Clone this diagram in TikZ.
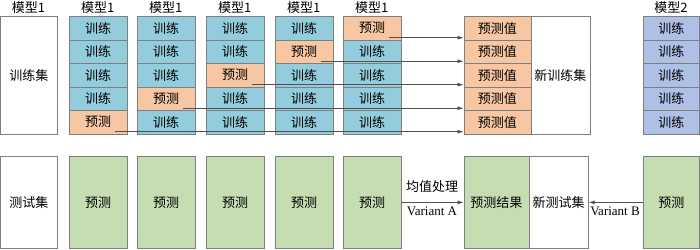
\documentclass[tikz,border=0pt]{standalone}
\usepackage{fontspec}
\setmainfont{Liberation Serif}
\newfontfamily\cjk{Noto Sans CJK SC}
\usetikzlibrary{arrows.meta}
\definecolor{trainc}{HTML}{93CDDD}
\definecolor{predc}{HTML}{F7C6A3}
\definecolor{greenc}{HTML}{C4DEB2}
\definecolor{bluec}{HTML}{AFC0E6}
\definecolor{edgec}{HTML}{7F7F7F}
\definecolor{linec}{HTML}{505050}
\tikzset{
  txt/.style={font=\cjk\fontsize{13}{15}\selectfont, inner sep=0pt},
  cell/.style={txt, draw=edgec, line width=0.7pt, anchor=north west, minimum width=57.5pt, minimum height=23.5pt},
  bigbox/.style={txt, draw=edgec, line width=0.7pt, anchor=north west, minimum height=117.5pt},
  lowbox/.style={txt, draw=edgec, line width=0.7pt, anchor=north west, minimum height=92pt},
  title/.style={txt},
  link/.style={draw=linec, line width=0.7pt, -{Latex[length=6pt,width=4pt]}},
  lbl/.style={font=\fontsize{13}{15}\selectfont, inner sep=0pt}
}
\begin{document}
\begin{tikzpicture}[x=1pt,y=-1pt]
\useasboundingbox (0,0) rectangle (700,249);
% training set
\node[bigbox, fill=white, minimum width=57pt] (ts) at (0,16) {训练集};
\node[title] (t0) at (28.5,8) {模型1};
% model 1 columns
\foreach \i/\x in {1/69,2/137,3/206,4/275,5/343} {
  \node[title] (t\i) at (\x+28.75,8) {模型1};
  \pgfmathtruncatemacro\p{6-\i}
  \foreach \j in {1,...,5} {
    \ifnum\j=\p \def\fc{predc}\def\tx{预测}\else\def\fc{trainc}\def\tx{训练}\fi
    \node[cell, fill=\fc] (c\i-\j) at (\x,16+23.5*\j-23.5) {\tx};
  }
  \node[lowbox, fill=greenc, minimum width=57.5pt] (g\i) at (\x,156) {预测};
}
% predicted values
\foreach \j in {1,...,5} {
  \node[cell, fill=predc, minimum width=67pt] (pv\j) at (463.5,16+23.5*\j-23.5) {预测值};
}
\node[bigbox, fill=white, minimum width=59pt] (nts) at (530.5,16) {新训练集};
% model 2
\node[title] (t6) at (671,8) {模型2};
\foreach \j in {1,...,5} {
  \node[cell, fill=bluec, minimum width=56pt] (m\j) at (643,16+23.5*\j-23.5) {训练};
}
% arrows top
\foreach \i/\j in {1/5,2/4,3/3,4/2,5/1} {
  \coordinate (s\i) at ([xshift=-12pt,yshift=2.5pt]c\i-\j.south east);
  \draw[link] (s\i) -- (s\i -| pv\j.west);
}
% bottom row
\node[lowbox, fill=white, minimum width=57pt] (test) at (0,156) {测试集};
\node[lowbox, fill=greenc, minimum width=65pt] (pr) at (463.5,156) {预测结果};
\node[lowbox, fill=white, minimum width=59.5pt] (nt) at (528.5,156) {新测试集};
\node[lowbox, fill=greenc, minimum width=56pt] (g6) at (643,156) {预测};
\draw[link] (g5.east) -- (pr.west);
\draw[link] (g6.west) -- (nt.east);
\node[txt] (avg) at (432,187) {均值处理};
\node[lbl] (va) at (432,211) {Variant A};
\node[lbl] (vb) at (615,211) {Variant B};
\end{tikzpicture}
\end{document}
